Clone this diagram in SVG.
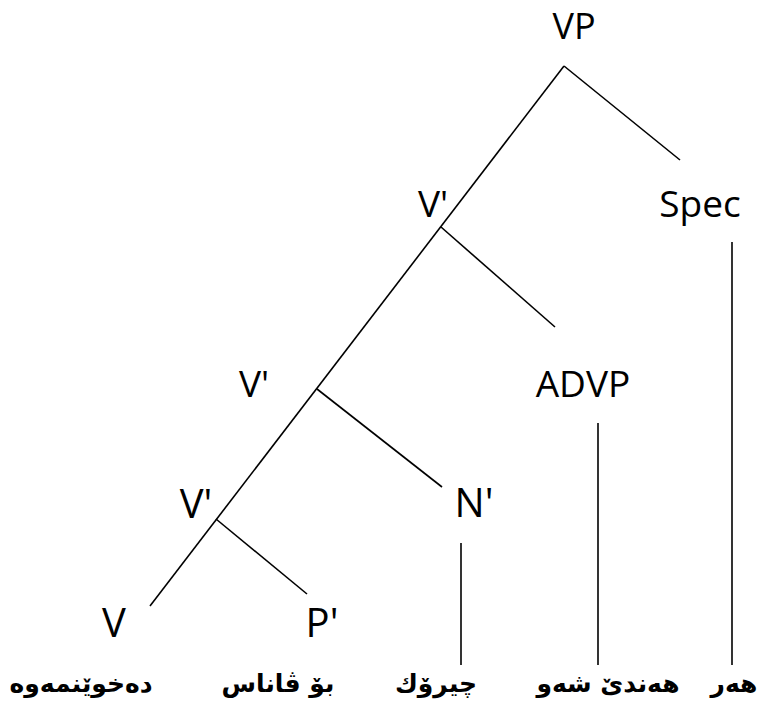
<svg xmlns="http://www.w3.org/2000/svg" width="758" height="704" viewBox="0 0 758 704">
<style>
.lbl{font-family:"Open Sans","Noto Sans","DejaVu Sans",sans-serif;font-size:37px;fill:#000}
.big{font-size:40px}
.top{font-size:36px}
.ku{font-family:"DejaVu Sans",sans-serif;font-weight:bold;font-size:25px;fill:#000}
.edge{stroke:#000;stroke-width:1.6;fill:none}
</style>
<rect width="758" height="704" fill="#fff"/>
<g id="connectors">
<line class="edge" x1="564" y1="66" x2="150" y2="606"/>
<line class="edge" x1="564" y1="66" x2="680" y2="160"/>
<line class="edge" x1="441" y1="227" x2="555" y2="327"/>
<line class="edge" x1="317" y1="389" x2="442" y2="487"/>
<line class="edge" x1="216" y1="519" x2="307" y2="594"/>
<line class="edge" x1="732" y1="242" x2="732" y2="665"/>
<line class="edge" x1="598" y1="423" x2="598" y2="665"/>
<line class="edge" x1="461" y1="543" x2="461" y2="665"/>
</g>
<g id="n-vp"><text class="lbl top" x="574" y="39" text-anchor="middle">VP</text></g>
<g id="n-v1"><text class="lbl" x="433" y="217" text-anchor="middle">V'</text></g>
<g id="n-spec"><text class="lbl" x="700" y="217" text-anchor="middle">Spec</text></g>
<g id="n-advp"><text class="lbl" x="583" y="397" text-anchor="middle">ADVP</text></g>
<g id="n-v2"><text class="lbl" x="254" y="397" text-anchor="middle">V'</text></g>
<g id="n-v3"><text class="lbl big" x="196" y="518" text-anchor="middle">V'</text></g>
<g id="n-n"><text class="lbl big" x="474" y="517" text-anchor="middle">N'</text></g>
<g id="n-v"><text class="lbl big" x="114" y="637" text-anchor="middle">V</text></g>
<g id="n-p"><text class="lbl big" x="322" y="637" text-anchor="middle">P'</text></g>
<g id="w1"><text class="ku" x="81" y="692" text-anchor="middle" direction="rtl">دەخوێنمەوە</text></g>
<g id="w2"><text class="ku" x="278" y="692" text-anchor="middle" direction="rtl">بۆ ڤاناس</text></g>
<g id="w3"><text class="ku" x="436" y="692" text-anchor="middle" direction="rtl">چیرۆك</text></g>
<g id="w4"><text class="ku" x="608" y="692" text-anchor="middle" direction="rtl">هەندێ شەو</text></g>
<g id="w5"><text class="ku" x="734" y="692" text-anchor="middle" direction="rtl">هەر</text></g>
</svg>
